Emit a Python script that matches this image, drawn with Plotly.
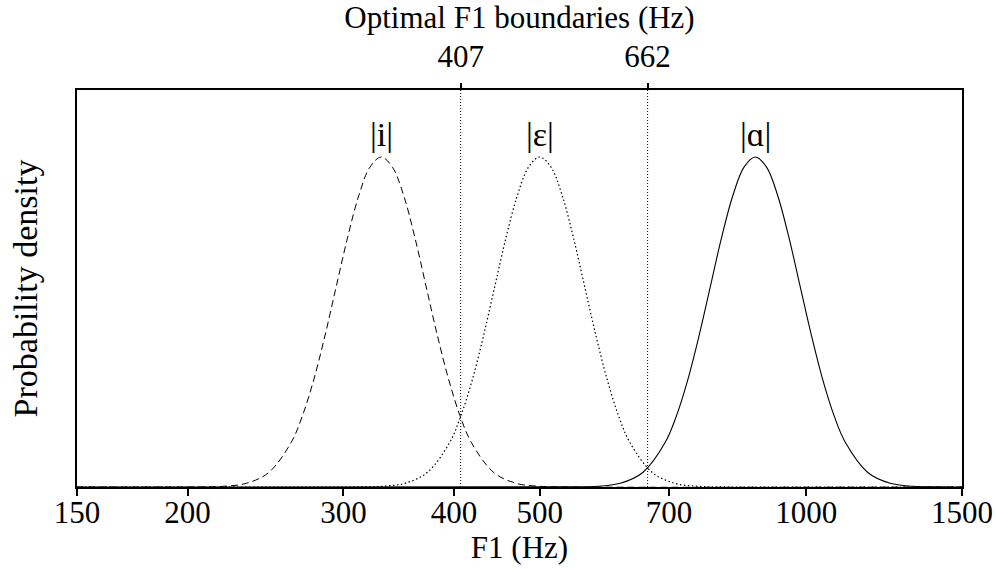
import math
import plotly.graph_objects as go

# ---- data (relative density, peak = 1) ----
i_f1 = [150, 207.2, 219.7, 233.0, 247.0, 261.9, 269.7, 277.7, 285.9, 294.4, 303.2, 312.2, 321.4,
        331.0, 340.8, 351.0, 361.4, 372.1, 383.2, 394.6, 406.3, 418.4, 443.6, 470.3, 498.7, 528.7, 1500]
i_dens = [0, 0.0003, 0.0022, 0.0111, 0.0439, 0.1353, 0.2163, 0.3247, 0.4578, 0.6065, 0.7548, 0.8825, 0.9692,
          1.0, 0.9692, 0.8825, 0.7548, 0.6065, 0.4578, 0.3247, 0.2163, 0.1353, 0.0439, 0.0111, 0.0022, 0.0003, 0]

e_f1 = [150, 313.0, 331.9, 351.9, 373.1, 395.6, 407.3, 419.5, 431.9, 444.7, 457.9, 471.6, 485.6,
        500.0, 514.9, 530.2, 545.9, 562.1, 578.8, 596.0, 613.7, 632.0, 670.1, 710.5, 753.3, 798.7, 1500]
e_dens = [0, 0.0003, 0.0022, 0.0111, 0.0439, 0.1353, 0.2163, 0.3247, 0.4578, 0.6065, 0.7548, 0.8825, 0.9692,
          1.0, 0.9692, 0.8825, 0.7548, 0.6065, 0.4578, 0.3247, 0.2163, 0.1353, 0.0439, 0.0111, 0.0022, 0.0003, 0]

a_f1 = [150, 548.4, 581.4, 616.5, 653.7, 693.1, 713.7, 734.9, 756.7, 779.2, 802.3, 826.2, 850.7,
        876.0, 902.1, 928.8, 956.4, 984.8, 1014.1, 1044.2, 1075.3, 1107.2, 1173.9, 1244.7, 1319.8, 1399.4, 1500]
a_dens = [0, 0.0003, 0.0022, 0.0111, 0.0439, 0.1353, 0.2163, 0.3247, 0.4578, 0.6065, 0.7548, 0.8825, 0.9692,
          1.0, 0.9692, 0.8825, 0.7548, 0.6065, 0.4578, 0.3247, 0.2163, 0.1353, 0.0439, 0.0111, 0.0022, 0.0003, 0]

vowel_labels = ["|i|", "|ε|", "|ɑ|"]
vowel_peaks = [331.0, 500.0, 876.0]

boundaries = [407, 662]
boundary_labels = ["407", "662"]

bottom_ticks = [150, 200, 300, 400, 500, 700, 1000, 1500]
bottom_tick_labels = ["150", "200", "300", "400", "500", "700", "1000", "1500"]

X_MIN, X_MAX = 150, 1500
Y_MAX = 1.203

FONT = "Liberation Serif"

fig = go.Figure()

fig.add_trace(go.Scatter(x=i_f1, y=i_dens, mode="lines",
                         line=dict(color="black", width=1, dash="7px,4px", shape="spline"),
                         showlegend=False, hoverinfo="skip"))
fig.add_trace(go.Scatter(x=e_f1, y=e_dens, mode="lines",
                         line=dict(color="black", width=1.2, dash="1.5px,2.5px", shape="spline"),
                         showlegend=False, hoverinfo="skip"))
fig.add_trace(go.Scatter(x=a_f1, y=a_dens, mode="lines",
                         line=dict(color="black", width=1.1, shape="spline"),
                         showlegend=False, hoverinfo="skip"))

for b in boundaries:
    fig.add_trace(go.Scatter(x=[b, b], y=[0, Y_MAX], mode="lines",
                             line=dict(color="black", width=1, dash="1px,2px"),
                             showlegend=False, hoverinfo="skip"))

# invisible trace to activate the top axis
fig.add_trace(go.Scatter(x=boundaries, y=[None, None], xaxis="x2", mode="markers",
                         showlegend=False, hoverinfo="skip"))

for lab, pk in zip(vowel_labels, vowel_peaks):
    fig.add_annotation(x=math.log10(pk), y=1.0, xref="x", yref="y",
                       text=lab, showarrow=False, yanchor="middle", yshift=22,
                       font=dict(family=FONT, size=34, color="black"))

fig.update_layout(
    width=996, height=569,
    margin=dict(l=77, r=34, t=90, b=82),
    paper_bgcolor="white", plot_bgcolor="white",
    font=dict(family=FONT, size=31, color="black"),
    xaxis=dict(type="log", range=[math.log10(X_MIN), math.log10(X_MAX)],
               tickmode="array", tickvals=bottom_ticks, ticktext=bottom_tick_labels,
               ticks="outside", ticklen=7, tickwidth=1.5, tickcolor="black",
               showline=True, linecolor="black", linewidth=1.5, mirror=True,
               showgrid=False, zeroline=False, automargin=False,
               ticklabelstandoff=-10,
               tickfont=dict(family=FONT, size=31),
               title=dict(text="F1 (Hz)", font=dict(family=FONT, size=31), standoff=0)),
    xaxis2=dict(type="log", range=[math.log10(X_MIN), math.log10(X_MAX)],
                overlaying="x", side="top", anchor="y",
                tickmode="array", tickvals=boundaries, ticktext=boundary_labels,
                ticks="outside", ticklen=6, tickwidth=1.5, tickcolor="black",
                showline=False, showgrid=False, zeroline=False, automargin=False,
                ticklabelstandoff=4,
                tickfont=dict(family=FONT, size=31),
                title=dict(text="Optimal F1 boundaries (Hz)", font=dict(family=FONT, size=31), standoff=2)),
    yaxis=dict(range=[0, Y_MAX], showticklabels=False, ticks="",
               showline=True, linecolor="black", linewidth=1.5, mirror=True,
               showgrid=False, zeroline=False, automargin=False,
               title=dict(text="Probability density", font=dict(family=FONT, size=34), standoff=27)),
)

# remove the browser's default page margin so the figure fills the window exactly
fig.write_html("out.html",
               config={"displayModeBar": False},
               post_script="document.body.style.margin='0';document.body.style.overflow='hidden';")
